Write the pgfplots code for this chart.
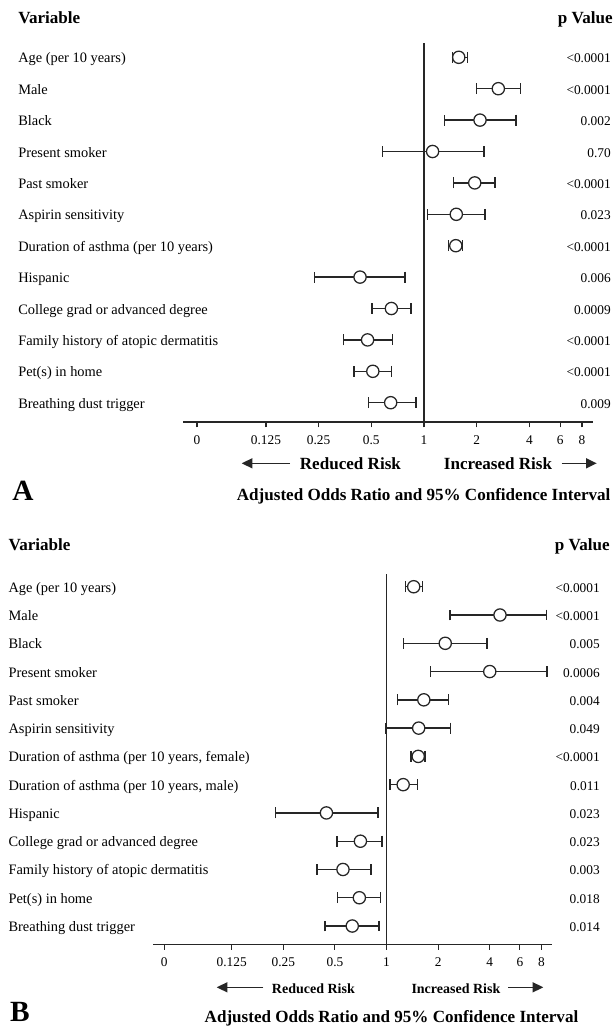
\documentclass[border=0pt]{standalone}
\usepackage{pgfplots}
\pgfplotsset{compat=1.18}
\usepackage{pgfplotstable}
\usepackage{fontspec}
\setmainfont{Liberation Serif}
\usetikzlibrary{arrows.meta}

\pgfplotstableread{
row or lo hi
1 1.58 1.45 1.77
2 2.66 1.99 3.56
3 2.09 1.31 3.35
4 1.12 0.58 2.20
5 1.95 1.47 2.55
6 1.53 1.045 2.23
7 1.52 1.38 1.66
8 0.431 0.237 0.78
9 0.651 0.505 0.843
10 0.476 0.346 0.662
11 0.51 0.399 0.651
12 0.645 0.48 0.899
}\dataA

\pgfplotstableread{
row or lo hi
1 1.44 1.29 1.62
2 4.59 2.35 8.6
3 2.20 1.26 3.86
4 4.0 1.81 8.65
5 1.65 1.16 2.30
6 1.54 0.99 2.36
7 1.53 1.39 1.68
8 1.25 1.05 1.51
9 0.446 0.225 0.892
10 0.704 0.513 0.94
11 0.557 0.393 0.81
12 0.694 0.518 0.92
13 0.631 0.437 0.904
}\dataB

\definecolor{ink}{gray}{0.15}

\tikzset{
  lab/.style={anchor=west, inner sep=0pt, font=\fontsize{10.8}{12}\selectfont, text height=1.5ex, text depth=0.3ex},
  pv/.style={anchor=east, inner sep=0pt, font=\fontsize{10}{12}\selectfont, text height=1.5ex, text depth=0.3ex},
  hd/.style={inner sep=0pt, font=\fontsize{12.8}{14}\selectfont\bfseries, text height=1.5ex, text depth=0.3ex},
}

\begin{document}
\begin{tikzpicture}[x=0.75pt,y=0.75pt]
\path[use as bounding box] (0,0) rectangle (615,-1026);

% ---------------- Panel A ----------------
\begin{axis}[
  xmode=log, log basis x=2,
  scale only axis, anchor=south west, clip=false,
  at={(137.475pt,-316.5pt)}, width=307.3pt, height=284.25pt,
  xmin=0.0421, xmax=9.25, ymin=0.545, ymax=12.615,
  y dir=reverse,
  axis x line*=bottom, axis y line=none,
  x axis line style={line width=1.1pt, ink, -},
  xtick={0.0504,0.125,0.25,0.5,1,2,4,6,8},
  xticklabels={0,0.125,0.25,0.5,1,2,4,6,8},
  xminorticks=false,
  tick align=outside, major tick length=4pt,
  every tick/.style={line width=0.8pt, ink},
  ticklabel style={font=\fontsize{10}{12}\selectfont, text=black},
  xticklabel style={yshift=-3pt},
  /pgf/number format/assume math mode=true]
\addplot[ink, line width=0.95pt] coordinates {(1,0.545) (1,12.615)};
\addplot[only marks, mark=none, ink,
  error bars/.cd, x dir=both, x explicit,
  error bar style={line width=1.05pt, ink},
  error mark options={mark size=4.1pt, line width=1.05pt, ink, rotate=90}]
  table[x=or, y=row,
  x error plus expr=\thisrow{hi}-\thisrow{or},
  x error minus expr=\thisrow{or}-\thisrow{lo}] {\dataA};
\addplot[only marks, mark=*, mark size=4.6pt,
  mark options={fill=white, draw=ink, line width=0.95pt}]
  table[x=or, y=row] {\dataA};
\end{axis}

\node[hd, anchor=west] at (18,-19.5) {Variable};
\node[hd, anchor=east] at (613,-19.5) {p Value};
\foreach \t [count=\i] in {{Age (per 10 years)},{Male},{Black},{Present smoker},{Past smoker},{Aspirin sensitivity},{Duration of asthma (per 10 years)},{Hispanic},{College grad or advanced degree},{Family history of atopic dermatitis},{Pet(s) in home},{Breathing dust trigger}}
  \node[lab] at (18,{-59.3-(\i-1)*31.4}) {\t};
\foreach \t [count=\i] in {{<0.0001},{<0.0001},{0.002},{0.70},{<0.0001},{0.023},{<0.0001},{0.006},{0.0009},{<0.0001},{<0.0001},{0.009}}
  \node[pv] at (611,{-59.3-(\i-1)*31.4}) {\t};

\draw[ink, line width=1.1pt, -{Triangle[length=8pt,width=7.5pt]}] (290,-463.3) -- (241.7,-463.3);
\node[hd] at (350.4,-465.8) {Reduced Risk};
\node[hd] at (498,-465.8) {Increased Risk};
\draw[ink, line width=1.1pt, -{Triangle[length=8pt,width=7.5pt]}] (561.7,-463.3) -- (596.7,-463.3);
\node[hd] at (423.7,-496.8) {Adjusted Odds Ratio and 95\% Confidence Interval};
\node[inner sep=0pt, font=\fontsize{22}{26}\selectfont\bfseries] at (23,-490.5) {A};

% ---------------- Panel B ----------------
\begin{axis}[
  xmode=log, log basis x=2,
  scale only axis, anchor=south west, clip=false,
  at={(114.975pt,-708.225pt)}, width=298.8pt, height=277.7pt,
  xmin=0.0436, xmax=9.19, ymin=0.551, ymax=13.647,
  y dir=reverse,
  axis x line*=bottom, axis y line=none,
  x axis line style={line width=1.1pt, ink, -},
  xtick={0.0504,0.125,0.25,0.5,1,2,4,6,8},
  xticklabels={0,0.125,0.25,0.5,1,2,4,6,8},
  xminorticks=false,
  tick align=outside, major tick length=4pt,
  every tick/.style={line width=0.8pt, ink},
  ticklabel style={font=\fontsize{10}{12}\selectfont, text=black},
  xticklabel style={yshift=-2.5pt},
  /pgf/number format/assume math mode=true]
\addplot[ink, line width=0.95pt] coordinates {(1,0.551) (1,13.647)};
\addplot[only marks, mark=none, ink,
  error bars/.cd, x dir=both, x explicit,
  error bar style={line width=1.05pt, ink},
  error mark options={mark size=4.1pt, line width=1.05pt, ink, rotate=90}]
  table[x=or, y=row,
  x error plus expr=\thisrow{hi}-\thisrow{or},
  x error minus expr=\thisrow{or}-\thisrow{lo}] {\dataB};
\addplot[only marks, mark=*, mark size=4.6pt,
  mark options={fill=white, draw=ink, line width=0.95pt}]
  table[x=or, y=row] {\dataB};
\end{axis}

\node[hd, anchor=west] at (8.3,-546.5) {Variable};
\node[hd, anchor=east] at (610,-546.5) {p Value};
\foreach \t [count=\i] in {{Age (per 10 years)},{Male},{Black},{Present smoker},{Past smoker},{Aspirin sensitivity},{Duration of asthma (per 10 years, female)},{Duration of asthma (per 10 years, male)},{Hispanic},{College grad or advanced degree},{Family history of atopic dermatitis},{Pet(s) in home},{Breathing dust trigger}}
  \node[lab] at (8.3,{-588.5-(\i-1)*28.28}) {\t};
\foreach \t [count=\i] in {{<0.0001},{<0.0001},{0.005},{0.0006},{0.004},{0.049},{<0.0001},{0.011},{0.023},{0.023},{0.003},{0.018},{0.014}}
  \node[pv] at (600,{-588.5-(\i-1)*28.28}) {\t};

\draw[ink, line width=1.1pt, -{Triangle[length=8pt,width=7.5pt]}] (263.3,-987.3) -- (216.7,-987.3);
\node[hd, font=\fontsize{10.5}{12}\selectfont\bfseries] at (313.4,-989.5) {Reduced Risk};
\node[hd, font=\fontsize{10.5}{12}\selectfont\bfseries] at (455.9,-989.5) {Increased Risk};
\draw[ink, line width=1.1pt, -{Triangle[length=8pt,width=7.5pt]}] (508.3,-987.3) -- (543.3,-987.3);
\node[hd] at (391.5,-1019) {Adjusted Odds Ratio and 95\% Confidence Interval};
\node[inner sep=0pt, font=\fontsize{22}{26}\selectfont\bfseries] at (20,-1012) {B};
\end{tikzpicture}
\end{document}
